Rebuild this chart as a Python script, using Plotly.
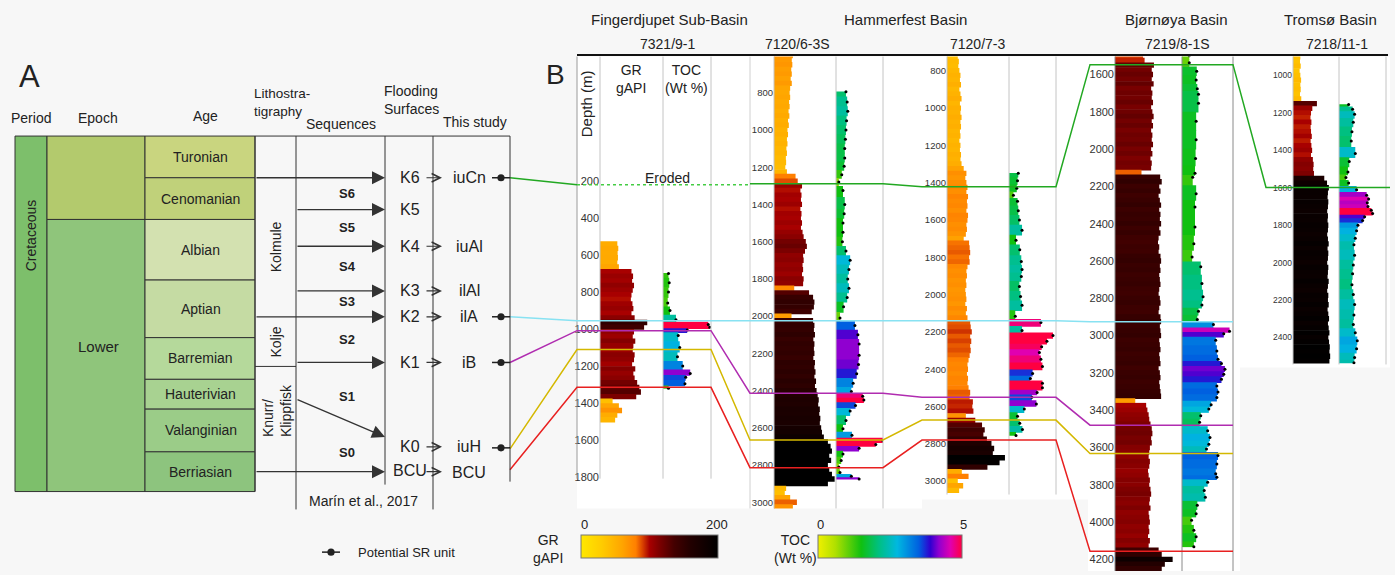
import plotly.graph_objects as go

W, H = 1395, 575
def X(p): return p / W
def Y(p): return 1 - p / H

FONT = "Liberation Sans, Arial, sans-serif"

# ---------------------------------------------------------------- data
basin_names = ["Fingerdjupet Sub-Basin", "Hammerfest Basin", "Bjørnøya Basin", "Tromsø Basin"]
well_names = ["7321/9-1", "7120/6-3S", "7120/7-3", "7219/8-1S", "7218/11-1"]

age_names = ["Turonian", "Cenomanian", "Albian", "Aptian", "Barremian",
             "Hauterivian", "Valanginian", "Berriasian"]
seq_names = ["S6", "S5", "S4", "S3", "S2", "S1", "S0"]
flood_names = ["K6", "K5", "K4", "K3", "K2", "K1", "K0", "BCU"]
study_names = ["iuCn", "", "iuAl", "ilAl", "ilA", "iB", "iuH", "BCU"]
sr_units = ["iuCn", "ilA", "iB", "iuH"]

# GR logs (gAPI), sampled every 25 m from the start depth
gr_step = 25
gr_start = [540, 600, 725, 1500, 900]
gr_w1 = [55, 58, 56, 57, 55, 60, 100, 105, 102, 108, 104, 100, 98, 103, 106, 100, 110, 150, 140, 108,
         104, 112, 106, 104, 110, 108, 102, 112, 106, 110, 118, 125, 130, 115, 40, 60, 70, 55, 48]
gr_w2 = [70, 66, 68, 64, 66, 62, 66, 60, 58, 60, 56, 58, 54, 57, 52, 55,
         50, 52, 48, 50, 46, 48, 44, 45, 42, 48,
         80, 88, 104, 98, 102, 100, 104, 98, 102, 100,
         104, 100, 106, 110, 118, 122, 115, 108, 110, 106,
         108, 104, 110, 108, 75, 130, 145, 150, 148, 140,
         65, 145, 150, 148, 152, 146, 150, 148, 150, 146,
         152, 150, 154, 150, 156, 152, 158, 162, 166, 164,
         170, 168, 172, 170, 175, 178, 185, 200, 210, 215,
         205, 212, 200, 205, 215, 225, 200, 45, 40, 60,
         85, 70]
gr_w3 = [40, 44, 42, 46, 50, 48, 52, 46, 50, 54,
         48, 52, 50, 54, 50, 52, 48, 50, 46, 50,
         48, 52, 50, 54, 62, 72, 68, 72, 76, 72,
         78, 74, 76, 72, 78, 76, 72, 74, 70, 62,
         82, 84, 86, 82, 84, 76, 72, 74, 70, 72,
         68, 70, 72, 68, 74, 70, 76, 86, 88, 92,
         86, 90, 86, 88, 84, 80, 76, 78, 74, 78,
         76, 80, 86, 84, 96, 94, 98, 70, 105, 130,
         140, 135, 148, 165, 175, 170, 215, 195, 150, 55,
         80, 40, 60, 45]
gr_w4 = [90, 95, 125, 118, 122, 118, 124, 116, 120, 118,
         122, 116, 120, 124, 118, 122, 116, 120, 118, 122,
         116, 120, 114, 118, 116, 85, 145, 150, 142, 146,
         140, 144, 148, 142, 146, 144, 148, 142, 146, 140,
         138, 142, 140, 146, 148, 144, 146, 142, 144, 146,
         142, 140, 144, 146, 142, 140, 146, 148, 144, 146,
         148, 142, 144, 146, 142, 144, 146, 140, 144, 146,
         142, 144, 146, 148, 65, 100, 104, 108, 110, 114,
         118, 120, 116, 118, 112, 110, 108, 112, 110, 106,
         108, 112, 110, 114, 116, 112, 110, 114, 108, 110,
         112, 108, 110, 106, 112, 108, 140, 150, 185, 160,
         150]
gr_w5 = [40, 38, 42, 36, 40, 44, 40, 42, 38, 45,
         130, 105, 98, 95, 100, 96, 98, 102, 96, 100,
         104, 98, 108, 112, 110, 114, 170, 185, 195, 190,
         188, 192, 190, 186, 190, 188, 192, 190, 186, 190,
         194, 188, 192, 190, 186, 192, 190, 188, 194, 190,
         186, 192, 190, 194, 188, 192, 196, 190, 194, 198,
         192, 196, 200, 198, 202, 198]

# TOC samples (depth m, wt %)
toc_d1 = [700, 750, 800, 860, 900, 950, 975, 990, 1005, 1035, 1100, 1150, 1200, 1240, 1260, 1295, 1320]
toc_v1 = [1.3, 1.4, 1.3, 1.2, 1.5, 2.3, 6.6, 6.8, 3.8, 2.6, 2.8, 2.5, 3.2, 4.2, 3.6, 3.5, 1.3]
toc_d2 = [795, 850, 900, 950, 1000, 1050, 1100, 1150, 1195, 1240, 1280, 1325, 1400, 1450, 1500,
          1550, 1600, 1650, 1700, 1750, 1800, 1850, 1900, 1950, 2010, 2050, 2100, 2150, 2210, 2260,
          2310, 2360, 2405, 2430, 2450, 2480, 2510, 2560, 2605, 2640, 2670, 2690, 2710, 2740, 2775,
          2810, 2840, 2860, 2875]
toc_v2 = [2.0, 2.2, 2.3, 2.1, 2.0, 1.9, 1.8, 1.8, 1.7, 1.3, 0.8, 1.5, 1.8, 1.7, 1.5,
          1.5, 1.4, 2.0, 2.7, 2.5, 2.3, 2.5, 2.2, 1.6, 1.0, 3.5, 4.0, 4.2, 4.2, 4.1,
          3.8, 3.2, 2.9, 4.8, 5.0, 3.6, 2.7, 2.0, 1.5, 3.0, 8.2, 7.0, 4.2, 1.5, 1.2,
          0.8, 1.0, 2.9, 4.2]
toc_d3 = [1350, 1390, 1430, 1468, 1500, 1550, 1600, 1655, 1708, 1760, 1823, 1865, 1903, 1956, 2010,
          2057, 2116, 2150, 2192, 2219, 2250, 2280, 2311, 2347, 2385, 2423, 2450, 2475, 2500, 2525,
          2551, 2586, 2613, 2652, 2690, 2723, 2755]
toc_v3 = [1.8, 1.7, 1.6, 1.15, 1.7, 1.8, 1.95, 2.3, 1.5, 2.0, 2.2, 2.3, 2.2, 1.95, 2.1,
          2.3, 1.4, 4.8, 2.3, 6.4, 5.6, 4.9, 4.6, 4.8, 5.0, 3.7, 3.4, 5.0, 5.0, 4.3,
          3.6, 4.2, 2.6, 1.7, 2.0, 2.35, 1.5]
toc_d4 = [1500, 1537, 1582, 1630, 1676, 1706, 1754, 1850, 1950, 2050, 2130, 2151, 2240, 2311, 2418,
          2507, 2578, 2631, 2720, 2791, 2836, 2869, 2913, 2940, 2976, 2990, 3025, 3082, 3127, 3150,
          3180, 3207, 3234, 3270, 3302, 3332, 3371, 3394, 3430, 3465, 3510, 3546, 3582, 3608, 3643,
          3688, 3741, 3759, 3786, 3830, 3866, 3910, 3955, 3990, 4044, 4079, 4132]
toc_v4 = [1.0, 1.0, 1.65, 1.6, 1.7, 1.8, 1.8, 1.6, 1.6, 1.55, 1.5, 1.3, 1.6, 1.5, 1.5,
          1.4, 1.25, 2.0, 2.1, 2.2, 2.1, 1.8, 1.7, 3.1, 4.5, 4.0, 3.3, 3.4, 3.5, 3.8,
          4.1, 4.0, 3.8, 3.4, 3.5, 3.4, 2.9, 2.7, 2.0, 1.9, 2.6, 2.8, 2.7, 2.5, 3.5,
          3.4, 3.3, 3.4, 2.6, 2.3, 2.4, 1.7, 1.6, 1.2, 1.4, 1.6, 1.4]
toc_d5 = [1155, 1180, 1207, 1250, 1300, 1350, 1417, 1460, 1516, 1545, 1575, 1610, 1640, 1660, 1680,
          1700, 1720, 1737, 1755, 1775, 1800, 1830, 1870, 1905, 1960, 2012, 2060, 2118, 2170, 2224,
          2280, 2330, 2375, 2418, 2460, 2507, 2535]
toc_v5 = [1.6, 2.2, 2.5, 2.3, 2.1, 2.0, 2.6, 1.7, 1.5, 1.2, 1.6, 2.8, 4.3, 4.6, 4.4,
          4.5, 5.0, 5.2, 4.0, 3.7, 3.0, 2.8, 2.6, 2.4, 2.5, 2.3, 2.2, 2.1, 2.3, 2.5,
          2.4, 2.3, 2.6, 2.9, 2.8, 2.5, 2.4]

# correlated surfaces: depth (m) in each well (None = not shown)
surface_names = ["iuCn", "ilA", "iB", "iuH", "BCU"]
surf_w1 = [221, 955, 1009, 1111, 1315]
surf_w2 = [1289, 2025, 2414, 2665, 2814]
surf_w3 = [1422, 2140, 2551, 2673, 2780]
surf_w4 = [1547, 2926, 3480, 3632, 4156]
surf_w5 = [1598, None, None, None, None]

# ---------------------------------------------------------------- styles
GR_CS = [[0, '#ffe800'], [0.15, '#ffcc00'], [0.3, '#ffa500'], [0.4, '#ff8000'], [0.45, '#d84000'],
         [0.5, '#a80000'], [0.58, '#780000'], [0.68, '#440000'], [0.8, '#220000'], [1, '#000000']]
TOC_CS = [[0, '#f0f000'], [0.12, '#b0e000'], [0.3, '#10c010'], [0.42, '#00c080'], [0.55, '#00b8e0'],
          [0.7, '#0060e0'], [0.78, '#3000d0'], [0.84, '#9000d0'], [0.92, '#e000b0'], [1, '#ff0040']]
SURF_COL = {"iuCn": "#22a822", "ilA": "#88e2f2", "iB": "#b02cb0", "iuH": "#d4b800", "BCU": "#e82020"}
OVERLAP = 1.15  # bars slightly overlap so no hairline gaps appear between samples

geom = [
    dict(left=577, gr=(600, 663), toc=(663, 711), right=750, top=57, bot=482, dr=(-471, 1808),
         ticks=list(range(200, 1801, 200)), fs=11, grmax=200, tocr=(0.57, 6.97)),
    dict(left=750, gr=(774, 836), toc=(836, 883), right=922, top=57, bot=512, dr=(606, 3033),
         ticks=list(range(800, 3001, 200)), fs=9.5, grmax=230, tocr=(0.33, 8.2)),
    dict(left=922, gr=(947, 1009), toc=(1009, 1056), right=1090, top=57, bot=498, dr=(724, 3072),
         ticks=list(range(800, 3001, 200)), fs=9.5, grmax=230, tocr=(0.57, 6.8)),
    dict(left=1090, gr=(1115, 1182), toc=(1182, 1233), right=1240, top=57, bot=575, dr=(1504, 4262),
         ticks=list(range(1600, 4201, 200)), fs=11, grmax=215, tocr=(0.37, 4.8)),
    dict(left=1266, gr=(1293, 1339), toc=(1339, 1386), right=1390, top=57, bot=367, dr=(899, 2544),
         ticks=list(range(1000, 2401, 200)), fs=8.5, grmax=250, tocr=(0.16, 7.2)),
]

gr_all = [gr_w1, gr_w2, gr_w3, gr_w4, gr_w5]
toc_all = [(toc_d1, toc_v1), (toc_d2, toc_v2), (toc_d3, toc_v3), (toc_d4, toc_v4), (toc_d5, toc_v5)]
surf_all = [surf_w1, surf_w2, surf_w3, surf_w4, surf_w5]


def dpy(g, d):
    return g['top'] + (d - g['dr'][0]) / (g['dr'][1] - g['dr'][0]) * (g['bot'] - g['top'])


def an(prefix, n):
    return prefix if n == 1 else f"{prefix}{n}"


fig = go.Figure()
axes = {}
for i, g in enumerate(geom):
    xg, xt, yy = 2 * i + 1, 2 * i + 2, i + 1
    axes[an('xaxis', xg)] = dict(domain=[X(g['gr'][0]), X(g['gr'][1])], range=[0, g['grmax']],
                                 anchor=an('y', yy), visible=False)
    axes[an('xaxis', xt)] = dict(domain=[X(g['toc'][0]), X(g['toc'][1])], range=list(g['tocr']),
                                 anchor=an('y', yy), visible=False)
    axes[an('yaxis', yy)] = dict(domain=[Y(g['bot']), Y(g['top'])], range=[g['dr'][1], g['dr'][0]],
                                 anchor=an('x', xg), showgrid=False, zeroline=False, showline=False,
                                 ticks='', tickmode='array', tickvals=g['ticks'],
                                 tickfont=dict(size=g['fs'], color='#333', family=FONT))
    # GR
    vals = gr_all[i]
    depths = [gr_start[i] + k * gr_step for k in range(len(vals))]
    mk = dict(color=vals, colorscale=GR_CS, cmin=0, cmax=200, line=dict(width=0))
    if i == 0:
        mk.update(showscale=True, colorbar=dict(orientation='h', x=X(581), xanchor='left', y=Y(539),
                                                yanchor='top', len=137, lenmode='pixels', thickness=23,
                                                outlinewidth=1, outlinecolor='#777', showticklabels=False,
                                                ticks='', xpad=0, ypad=0))
    fig.add_trace(go.Bar(x=vals, y=depths, orientation='h', width=gr_step * OVERLAP, marker=mk,
                         xaxis=an('x', xg), yaxis=an('y', yy), hoverinfo='skip', showlegend=False))
    # TOC
    td, tv = toc_all[i]
    edges = [td[0]] + [(td[k] + td[k + 1]) / 2 for k in range(len(td) - 1)] + [td[-1]]
    cent = [(edges[k] + edges[k + 1]) / 2 for k in range(len(td))]
    wid = [(edges[k + 1] - edges[k]) + 4 for k in range(len(td))]
    mk2 = dict(color=tv, colorscale=TOC_CS, cmin=0, cmax=5, line=dict(width=0))
    if i == 0:
        mk2.update(showscale=True, colorbar=dict(orientation='h', x=X(818), xanchor='left', y=Y(539),
                                                 yanchor='top', len=144, lenmode='pixels', thickness=23,
                                                 outlinewidth=1, outlinecolor='#777', showticklabels=False,
                                                 ticks='', xpad=0, ypad=0))
    fig.add_trace(go.Bar(x=tv, y=cent, orientation='h', width=wid, marker=mk2,
                         xaxis=an('x', xt), yaxis=an('y', yy), hoverinfo='skip', showlegend=False))
    fig.add_trace(go.Scatter(x=tv, y=td, mode='markers', marker=dict(size=3, color='black'),
                             xaxis=an('x', xt), yaxis=an('y', yy), hoverinfo='skip', showlegend=False))

shapes = []
annotations = []


def L(x0, y0, x1, y1, color='#333', w=1.0, dash='solid', layer='above'):
    shapes.append(dict(type='line', xref='paper', yref='paper', x0=X(x0), y0=Y(y0), x1=X(x1), y1=Y(y1),
                       line=dict(color=color, width=w, dash=dash), layer=layer))


def R(x0, y0, x1, y1, fill, lc='#333', lw=0, layer='below'):
    shapes.append(dict(type='rect', xref='paper', yref='paper', x0=X(x0), y0=Y(y0), x1=X(x1), y1=Y(y1),
                       fillcolor=fill, line=dict(color=lc, width=lw), layer=layer))


def C(x, y, r, color='#222'):
    shapes.append(dict(type='circle', xref='paper', yref='paper', x0=X(x - r), y0=Y(y - r),
                       x1=X(x + r), y1=Y(y + r), fillcolor=color, line=dict(color=color, width=0)))


def P(pts, color, w=1.5, dash='solid'):
    path = "M " + " L ".join(f"{X(a):.5f},{Y(b):.5f}" for a, b in pts)
    shapes.append(dict(type='path', xref='paper', yref='paper', path=path,
                       line=dict(color=color, width=w, dash=dash)))


def T(x, y, s, size=14, color='#222', xanchor='center', angle=0, bold=False, align='center'):
    if bold:
        s = f"<b>{s}</b>"
    annotations.append(dict(x=X(x), y=Y(y), xref='paper', yref='paper', text=s, showarrow=False,
                            font=dict(size=size, color=color, family=FONT), xanchor=xanchor,
                            yanchor='middle', textangle=angle, align=align))


def ARW(x0, y0, x1, y1, head=2, size=2.0, width=1.3):
    annotations.append(dict(x=X(x1), y=Y(y1), xref='paper', yref='paper', ax=x0 - x1, ay=y0 - y1,
                            axref='pixel', ayref='pixel', text='', showarrow=True, arrowhead=head,
                            arrowsize=size, arrowwidth=width, arrowcolor='#333', standoff=0))


# ---------------- panel B backgrounds
R(577, 57, 922, 512, 'white')
R(922, 57, 1090, 503, 'white')
R(1088, 57, 1240, 575, 'white')
R(1240, 57, 1390, 370, 'white')

for i, g in enumerate(geom):
    lc = '#8a8a8a' if i == 3 else '#c4c4c4'
    for xx in (g['gr'][0], g['toc'][0], g['toc'][1]):
        L(xx, g['top'], xx, g['bot'], lc, 1)
L(577, 57, 577, 482, '#9a9a9a', 1)
L(750, 57, 750, 512, '#d0d0d0', 1)
L(577, 55.5, 1388, 55.5, '#111', 2)

# ---------------- correlation lines
A_y = {"iuCn": 179, "ilA": 319, "iB": 365, "iuH": 452, "BCU": 473}
for k, name in enumerate(surface_names):
    col = SURF_COL[name]
    pts = [(510, A_y[name])]
    for i, g in enumerate(geom):
        d = surf_all[i][k]
        if d is None:
            break
        yv = dpy(g, d)
        pts.append((g['left'], yv))
        pts.append((g['toc'][1] if i < 4 else g['right'], yv))
    if name == "iuCn":
        P(pts[:2], col)
        P([pts[1], (750, pts[1][1])], '#44cc44', 1.6, 'dot')
        P(pts[3:], col)
    else:
        P(pts, col)

# ---------------- panel A
age_rows = [137, 179, 221, 282, 340, 382, 412, 455, 495]
age_cols = ['#c9d57f', '#c0d17a', '#d3e1b0', '#c5dba3', '#b5d99b', '#a8d291', '#9bcc88', '#8dc47e']
R(15, 137, 47, 495, '#7dbf6b', '#333', 1)
R(47, 137, 145, 221, '#b3ca6d', '#333', 1)
R(47, 221, 145, 495, '#8fc57b', '#333', 1)
for j, nm in enumerate(age_names):
    R(145, age_rows[j], 255, age_rows[j + 1], age_cols[j], '#333', 1)
    T(201, (age_rows[j] + age_rows[j + 1]) / 2, nm, 14)
T(31, 237, "Cretaceous", 14, angle=-90)
T(98, 349, "Lower", 15)

L(255, 137, 510, 137, '#333', 1)
L(255, 137, 255, 495, '#333', 1)
L(296, 137, 296, 513, '#333', 1)
L(255, 369, 296, 369, '#333', 1)
L(385, 137, 385, 488, '#333', 1)
L(433, 137, 433, 513, '#333', 1)
L(510, 137, 510, 485, '#333', 1)

flood_y = [179, 211, 248, 293, 319, 365, 450, 474]
arrow_tail = [(255, 179), (296, 211), (296, 248), (296, 293), (255, 319), (296, 365), (296, 402), (255, 475)]
arrow_head = [(385, 179), (385, 211), (385, 248), (385, 293), (385, 319), (385, 365), (385, 440), (385, 475)]
for (x0, y0), (x1, y1) in zip(arrow_tail, arrow_head):
    ARW(x0, y0, x1, y1)
seq_y = [195, 229, 268, 304, 342, 399, 456]
for nm, yv in zip(seq_names, seq_y):
    T(347, yv, nm, 13, bold=True)
for j, nm in enumerate(flood_names):
    T(410, flood_y[j], nm, 16)
    if study_names[j]:
        ARW(425, flood_y[j] + (1 if nm == "BCU" else 0), 442, flood_y[j] + (1 if nm == "BCU" else 0),
            head=5, size=1.4, width=1.2)
        T(469, flood_y[j] + (2 if nm == "BCU" else 0), study_names[j], 16)
for nm in sr_units:
    yv = {"iuCn": 179, "ilA": 319, "iB": 365, "iuH": 451}[nm]
    L(492, yv, 510, yv, '#222', 1.5)
    C(501, yv, 3.6)

T(276, 249, "Kolmule", 14, angle=-90)
T(276, 345, "Kolje", 14, angle=-90)
T(277, 414, "Knurr/<br>Klippfisk", 14, angle=-90, align='left')
T(364, 505, "Marín et al., 2017", 14)

T(29, 77, "A", 31)
T(31, 119, "Period", 14)
T(98, 119, "Epoch", 14)
T(205, 117, "Age", 14)
T(252, 103, "Lithostra-<br>tigraphy", 13.5, xanchor='left', align='left')
T(341, 125, "Sequences", 14)
T(382, 101, "Flooding<br>Surfaces", 14, xanchor='left', align='left')
T(475, 123, "This study", 14)

# legend
L(322, 556, 340, 556, '#222', 1.5)
C(331, 556, 3.6)
T(356, 556, "Potential SR unit", 13, xanchor='left')

# ---------------- panel B texts
T(555, 75, "B", 28)
T(669, 20, basin_names[0], 15)
T(905, 20, basin_names[1], 15)
T(1176, 20, basin_names[2], 15)
T(1330, 20, basin_names[3], 15)
for nm, xc in zip(well_names, [667, 797, 977, 1177, 1337]):
    T(xc, 44, nm, 14)
T(631, 80, "GR<br>gAPI", 14)
T(686, 80, "TOC<br>(Wt %)", 14)
T(586, 105, "Depth (m)", 15, angle=-90)
T(667, 179, "Eroded", 14)

T(548, 553, "GR<br>gAPI", 14)
T(584, 528, "0", 13)
T(717, 528, "200", 13)
T(795, 553, "TOC<br>(Wt %)", 14)
T(820, 528, "0", 13)
T(963, 528, "5", 13)

fig.update_layout(width=W, height=H, margin=dict(l=0, r=0, t=0, b=0), paper_bgcolor='#f7f7f7',
                  plot_bgcolor='rgba(0,0,0,0)', barmode='overlay', showlegend=False,
                  shapes=shapes, annotations=annotations, font=dict(family=FONT), **axes)
fig.write_html("out.html")
